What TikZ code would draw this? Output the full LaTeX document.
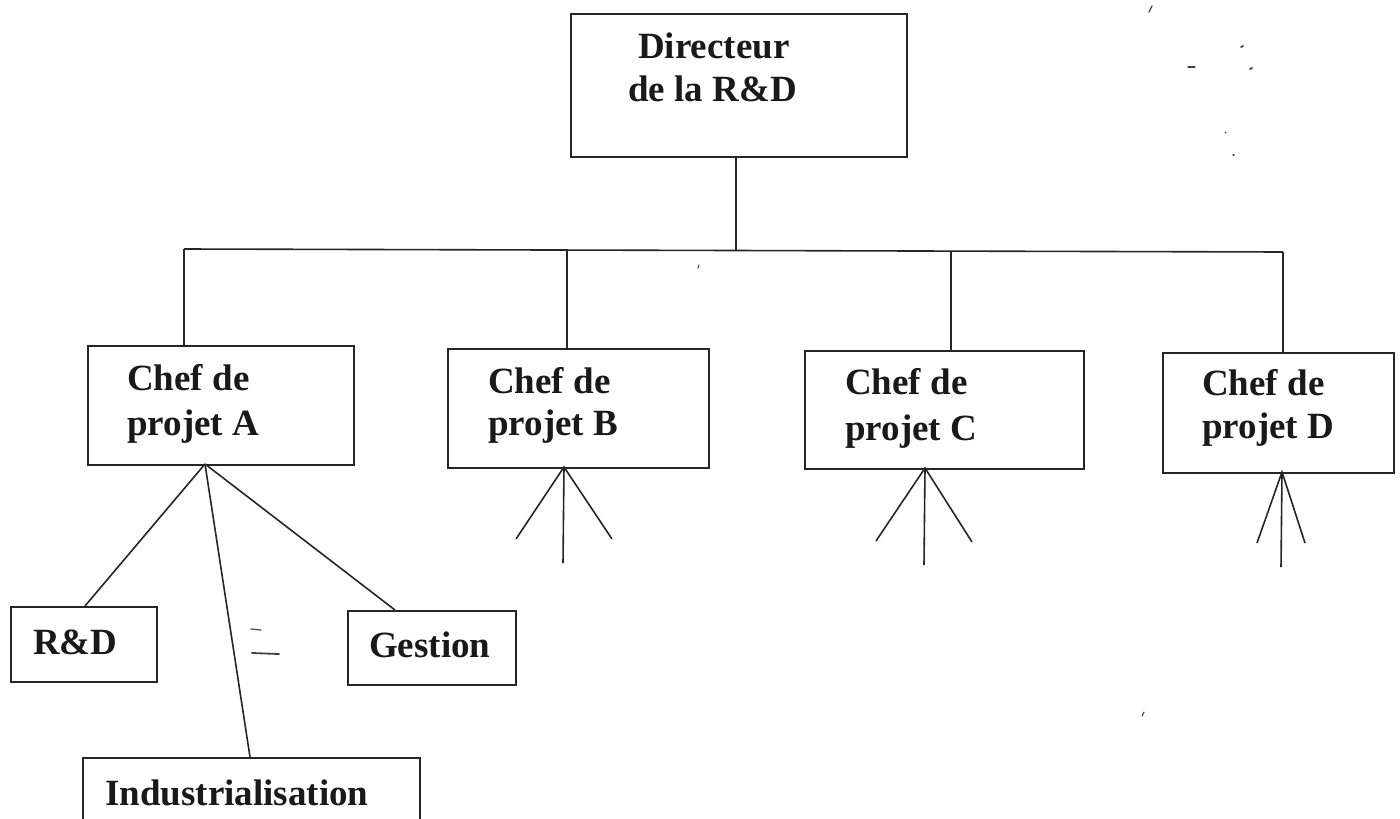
\documentclass[tikz,border=0pt]{standalone}
\usepackage{fontspec}
\setmainfont{Liberation Serif}
\begin{document}
\begin{tikzpicture}[x=1pt,y=-1pt,
  box/.style={draw=black!85, line width=1.6pt, inner sep=0pt, anchor=north west, rectangle},
  lbl/.style={anchor=base west, inner sep=0pt, font=\fontsize{37}{43}\selectfont\bfseries, text=black!90},
  link/.style={draw=black!85, line width=1.6pt},
  speck/.style={draw=black!75, line width=1.8pt, line cap=round}]
\clip (0,0) rectangle (1400,819);
\fill[white] (0,0) rectangle (1400,819);

% --- boxes ---
\node[box, minimum width=336pt, minimum height=143pt] (dir) at (570,13) {};
\node[box, minimum width=266pt, minimum height=119pt] (pA) at (87,345) {};
\node[box, minimum width=261pt, minimum height=119pt] (pB) at (447,348) {};
\node[box, minimum width=279pt, minimum height=118pt] (pC) at (804,350) {};
\node[box, minimum width=231pt, minimum height=120pt] (pD) at (1162,352) {};
\node[box, minimum width=146pt, minimum height=75pt] (rd) at (10,606) {};
\node[box, minimum width=168pt, minimum height=74pt] (ges) at (347,610) {};
\node[box, minimum width=337pt, minimum height=90pt] (ind) at (82,757) {};

% --- labels ---
\node[lbl] (dir1) at (638,58) {Directeur};
\node[lbl] (dir2) at (628,101) {de la R\&D};
\node[lbl] (a1) at (127,390) {Chef de};
\node[lbl] (a2) at (127,435) {projet A};
\node[lbl] (b1) at (488,393) {Chef de};
\node[lbl] (b2) at (488,435) {projet B};
\node[lbl] (c1) at (845,394) {Chef de};
\node[lbl] (c2) at (845,440) {projet C};
\node[lbl] (d1) at (1202,395) {Chef de};
\node[lbl] (d2) at (1202,438) {projet D};
\node[lbl] (rdl) at (33,654) {R\&D};
\node[lbl] (gesl) at (369,657) {Gestion};
\node[lbl] (indl) at (105,805) {Industrialisation};

% --- hierarchy bar ---
\coordinate (barM) at (736,250);
\coordinate (barL) at (184,249);
\coordinate (barR) at (1283,252);
\coordinate (tB) at (567,250);
\coordinate (tC) at (951,251);
\draw[link] (dir.south -| barM) -- (barM);
\draw[link] (barL) -- (barR);
\draw[link] (barL) -- (barL |- pA.north);
\draw[link] (tB) -- (tB |- pB.north);
\draw[link] (tC) -- (tC |- pC.north);
\draw[link] (barR) -- (barR |- pD.north);

% --- project A teams ---
\coordinate (apA) at (205,464);
\coordinate (rdT) at (85,606);
\coordinate (indT) at (250,757);
\coordinate (gesT) at (395,610);
\draw[link] (apA) -- (rdT);
\draw[link] (apA) -- (indT);
\draw[link] (apA) -- (gesT);

% --- open fans under B, C, D ---
\coordinate (apB) at (564,467);
\coordinate (bL) at (516,539);
\coordinate (bM) at (563,563);
\coordinate (bR) at (612,539);
\draw[link] (bL) -- (apB) -- (bR) (apB) -- (bM);
\coordinate (apC) at (925,468);
\coordinate (cL) at (876,541);
\coordinate (cM) at (924,565);
\coordinate (cR) at (972,542);
\draw[link] (cL) -- (apC) -- (cR) (apC) -- (cM);
\coordinate (apD) at (1282,472);
\coordinate (dL) at (1257,543);
\coordinate (dM) at (1281,567);
\coordinate (dR) at (1305,543);
\draw[link] (dL) -- (apD) -- (dR) (apD) -- (dM);

% --- stray marks ---
\draw[speck, line width=1.2pt] (251,629) -- (261,630);
\draw[speck] (252,653) -- (279,654);
\draw[speck, line width=1.2pt] (1149,12) -- (1152,6);
\draw[speck] (1241,47) -- (1243,46);
\draw[speck, line width=1.2pt] (1188,67) -- (1195,67);
\draw[speck] (1250,69) -- (1252,68);
\draw[speck, line width=1.3pt] (1225,132) -- (1226,133);
\draw[speck, line width=1.3pt] (1233,155) -- (1234,155);
\draw[speck, line width=1.1pt] (1142,716) -- (1144,712);
\draw[speck, line width=1pt] (698,268) -- (699,265);
\end{tikzpicture}
\end{document}
